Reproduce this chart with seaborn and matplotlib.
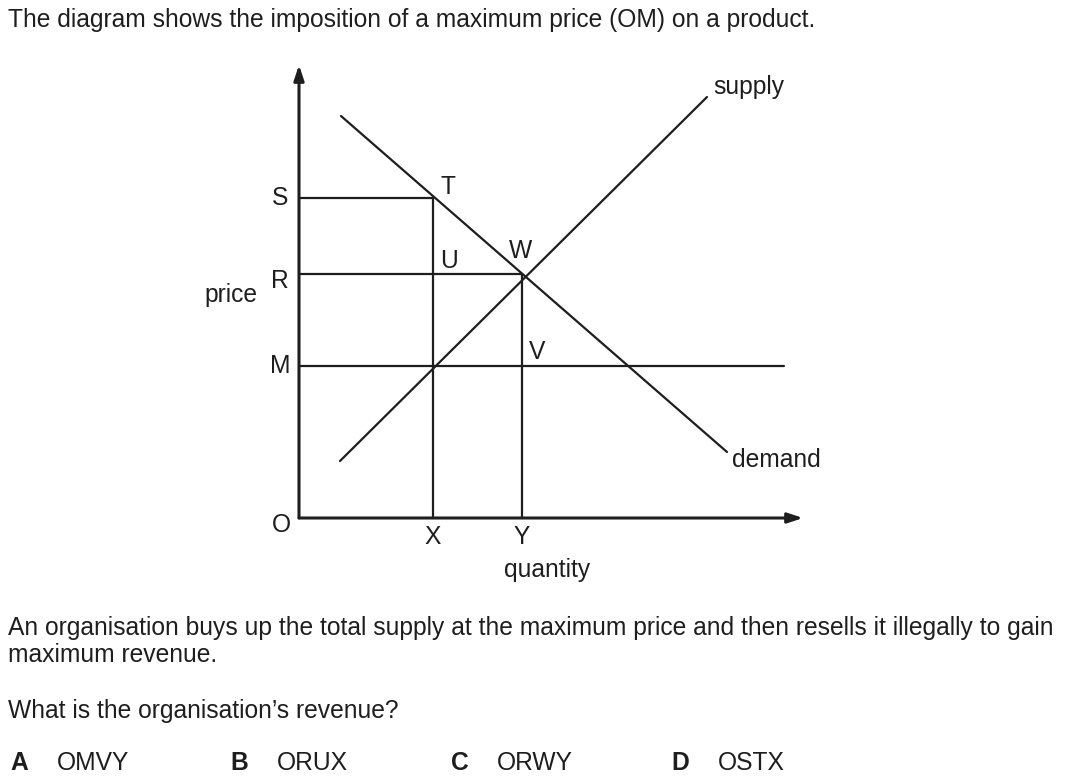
import numpy as np
import pandas as pd
import matplotlib
matplotlib.use("Agg")
import matplotlib.pyplot as plt
import seaborn as sns

sns.set_style("white")
plt.rcParams["font.family"] = ["Liberation Sans", "DejaVu Sans"]

# price levels and quantities (diagram units, origin at O)
price_levels = {"S": 320, "R": 244, "M": 152}
quantities = {"X": 134, "Y": 223}

demand_x = [42, 428]
demand_y = [402, 66]
supply_x = [41, 408]
supply_y = [57, 421]

ceiling_end = 485        # maximum price line reaches this far right
axis_len_x = 504
axis_len_y = 453

ink = "#1e1e1e"

# build the segments table
segs = []
segs.append(("demand", demand_x, demand_y))
segs.append(("supply", supply_x, supply_y))
segs.append(("S_line", [0, quantities["X"]], [price_levels["S"]] * 2))
segs.append(("R_line", [0, quantities["Y"]], [price_levels["R"]] * 2))
segs.append(("M_line", [0, ceiling_end], [price_levels["M"]] * 2))
segs.append(("X_line", [quantities["X"]] * 2, [0, price_levels["S"]]))
segs.append(("Y_line", [quantities["Y"]] * 2, [0, price_levels["R"]]))
rows = []
for name, xs, ys in segs:
    for i, (a, b) in enumerate(zip(xs, ys)):
        rows.append({"seg": name, "order": i, "q": a, "p": b})
df = pd.DataFrame(rows)

W, H = 1080, 784
ox, oy = 299, 518   # pixel position of O
fig = plt.figure(figsize=(W / 100, H / 100), dpi=100)
ax = fig.add_axes([0, 0, 1, 1])
ax.set_xlim(-ox, W - ox)
ax.set_ylim(oy - H, oy)
ax.axis("off")

sns.lineplot(data=df, x="q", y="p", units="seg", estimator=None, sort=False,
             color=ink, lw=1.6, ax=ax, legend=False)

# axes with arrows
ax.annotate("", xy=(axis_len_x, 0), xytext=(0, 0),
            arrowprops=dict(arrowstyle="-|>,head_length=0.9,head_width=0.3",
                            color=ink, lw=2.2, shrinkA=0, shrinkB=0))
ax.annotate("", xy=(0, axis_len_y), xytext=(0, 0),
            arrowprops=dict(arrowstyle="-|>,head_length=0.9,head_width=0.3",
                            color=ink, lw=2.2, shrinkA=0, shrinkB=0))

FS = 17.7


def px(x, y, s, ha="left", va="center", weight="normal", size=FS):
    fig.text(x / W, 1 - y / H, s, ha=ha, va=va, fontsize=size,
             weight=weight, color=ink)


px(8, 20, "The diagram shows the imposition of a maximum price (OM) on a product.")

# diagram labels
px(280, 198, "S", ha="center")
px(280, 281, "R", ha="center")
px(280, 366, "M", ha="center")
px(231, 295, "price", ha="center")
px(281, 525, "O", ha="center")
px(433, 537, "X", ha="center")
px(522, 537, "Y", ha="center")
px(547, 570, "quantity", ha="center")
px(448, 187, "T", ha="center")
px(449, 261, "U", ha="center")
px(521, 251, "W", ha="center")
px(537, 352, "V", ha="center")
px(749, 87, "supply", ha="center")
px(776, 460, "demand", ha="center")

px(8, 628, "An organisation buys up the total supply at the maximum price and then resells it illegally to gain")
px(8, 655, "maximum revenue.")
px(8, 711, "What is the organisation\u2019s revenue?")

options = [("A", "OMVY", 10, 57), ("B", "ORUX", 230, 277),
           ("C", "ORWY", 451, 497), ("D", "OSTX", 671, 718)]
for letter, text, lx, tx in options:
    px(lx, 770, letter, weight="bold", va="baseline")
    px(tx, 770, text, va="baseline")

fig.savefig("out.png", dpi=100, facecolor="white")
